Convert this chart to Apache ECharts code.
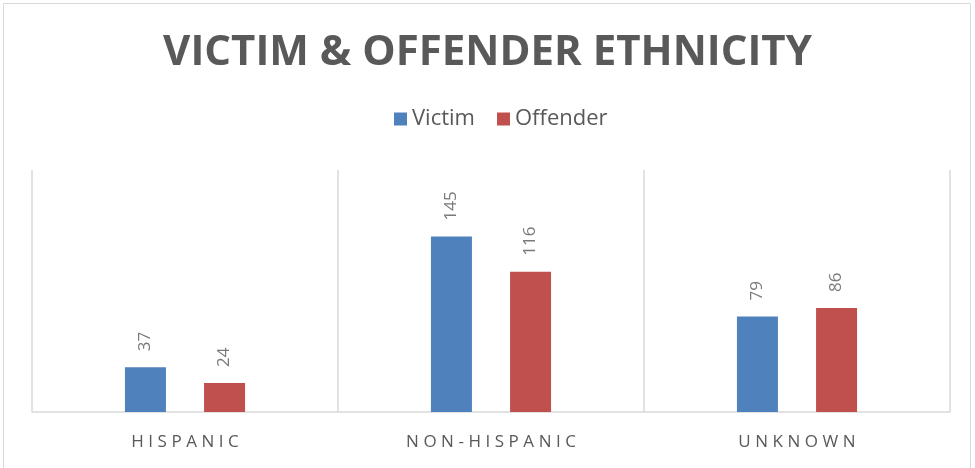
<!DOCTYPE html>
<html>
<head>
<meta charset="utf-8">
<script src="https://cdn.jsdelivr.net/npm/echarts@6/dist/echarts.min.js"></script>
<style>
	html, body { margin: 0; padding: 0; background: #fff; }
	#chart { width: 975px; height: 468px; }
</style>
</head>
<body>
<div id="chart"></div>
<script>
	'use strict'

	var categories = ['HISPANIC', 'NON-HISPANIC', 'UNKNOWN'];
	var victim = [37, 145, 79];
	var offender = [24, 116, 86];

	// spread letters like the original's character spacing
	function spaced(s) {
		return s.split('').join('\u2009\u200A');
	}

	var valueLabel = {
		show: true,
		position: 'top',
		rotate: 90,
		align: 'left',
		verticalAlign: 'middle',
		distance: 16,
		fontFamily: 'Open Sans',
		fontSize: 17,
		color: '#7a7a7a'
	};

	var chart = echarts.init(document.getElementById('chart'));
	var option = {
		animation: false,
		title: {
			text: 'VICTIM & OFFENDER ETHNICITY',
			left: 'center',
			top: 27,
			textStyle: {
				fontFamily: 'Open Sans',
				fontWeight: 'bold',
				fontSize: 42,
				color: '#595959'
			}
		},
		legend: {
			top: 103,
			left: 389,
			itemWidth: 13,
			itemHeight: 13,
			itemGap: 22,
			icon: 'rect',
			textStyle: {
				fontFamily: 'Open Sans',
				fontSize: 22,
				color: '#595959'
			},
			data: ['Victim', 'Offender']
		},
		graphic: [{
			type: 'rect',
			shape: { x: 3.5, y: 3.5, width: 967, height: 470 },
			style: { fill: 'none', stroke: '#d9d9d9', lineWidth: 1 },
			silent: true
		}],
		grid: {
			left: 32,
			right: 25,
			top: 170,
			bottom: 56
		},
		xAxis: {
			type: 'category',
			data: categories,
			axisLine: { lineStyle: { color: '#d9d9d9', width: 1.5 } },
			axisTick: { show: false },
			splitLine: { show: true, lineStyle: { color: '#d9d9d9', width: 1.5 } },
			axisLabel: {
				margin: 22,
				fontFamily: 'Open Sans',
				fontSize: 17,
				color: '#595959',
				formatter: spaced
			}
		},
		yAxis: {
			type: 'value',
			min: 0,
			max: 200,
			show: false,
			splitLine: { show: false }
		},
		series: [{
			name: 'Victim',
			type: 'bar',
			data: victim,
			barWidth: 41,
			barGap: '93%',
			itemStyle: { color: '#4f81bd' },
			label: valueLabel
		}, {
			name: 'Offender',
			type: 'bar',
			data: offender,
			barWidth: 41,
			itemStyle: { color: '#c0504d' },
			label: valueLabel
		}]
	};
	chart.setOption(option);
</script>
</body>
</html>
